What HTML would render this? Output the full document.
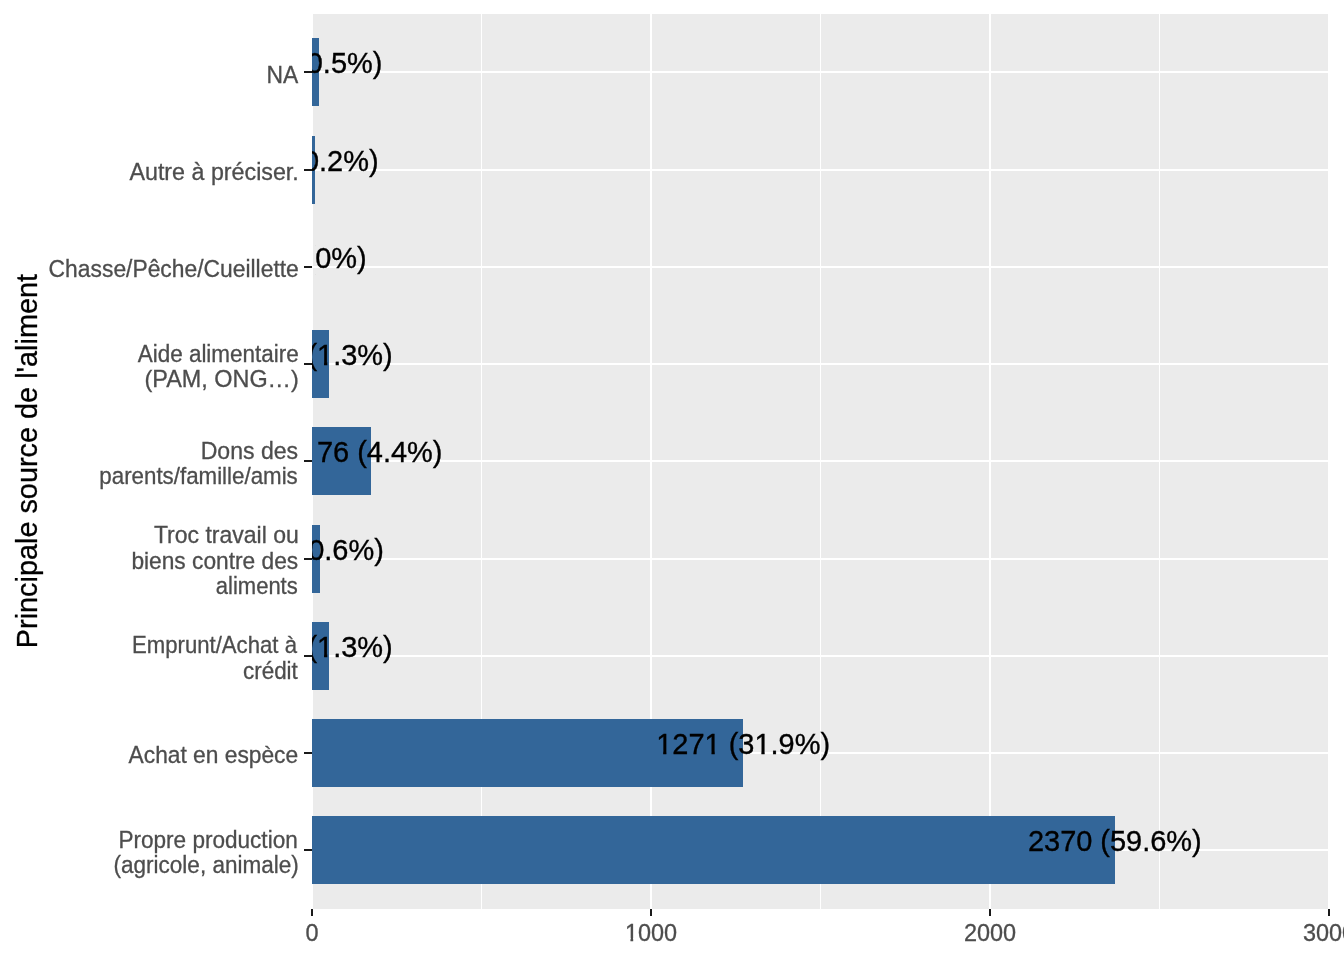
<!DOCTYPE html>
<html lang="fr"><head><meta charset="utf-8"><title>Principale source de l'aliment</title>
<style>html,body{margin:0;padding:0;background:#fff;}body{width:1344px;height:960px;overflow:hidden;}svg{display:block;}text{font-family:"Liberation Sans",sans-serif;}.ax{font-size:23.47px;fill:#4D4D4D;stroke:#4D4D4D;stroke-width:0.3px;}.lb{font-size:29.4px;fill:#000;stroke:#000;stroke-width:0.35px;}.ti{font-size:29.33px;fill:#000;text-anchor:middle;stroke:#000;stroke-width:0.3px;}.g rect{fill:#fff;}.t rect{fill:#1A1A1A;}.b rect{fill:#336699;}</style></head><body>
<svg width="1344" height="960" viewBox="0 0 1344 960">
<rect width="1344" height="960" fill="#fff"/>
<defs><clipPath id="pc"><rect x="312" y="14" width="1018" height="895"/></clipPath><clipPath id="pc2"><rect x="315.4" y="14" width="1014" height="895"/></clipPath><clipPath id="f3"><path clip-rule="evenodd" d="M0 0H1344V960H0ZM318.52 362.00h5.53v4.78h-5.53ZM327.26 362.00h5.45v4.78h-5.45Z"/></clipPath><clipPath id="f4"><path clip-rule="evenodd" d="M0 0H1344V960H0ZM302.27 459.00h5.53v4.78h-5.53ZM311.00 459.00h5.45v4.78h-5.45Z"/></clipPath><clipPath id="f6"><path clip-rule="evenodd" d="M0 0H1344V960H0ZM318.52 654.00h5.53v4.78h-5.53ZM327.26 654.00h5.45v4.78h-5.45Z"/></clipPath><clipPath id="f7"><path clip-rule="evenodd" d="M0 0H1344V960H0ZM657.67 751.00h5.53v4.78h-5.53ZM666.40 751.00h5.45v4.78h-5.45ZM705.98 751.00h5.53v4.78h-5.53ZM714.72 751.00h5.45v4.78h-5.45ZM755.88 751.00h5.53v4.78h-5.53ZM764.62 751.00h5.45v4.78h-5.45Z"/></clipPath><clipPath id="fx"><path clip-rule="evenodd" d="M0 0H1344V960H0ZM625.93 938.10h4.56v4.25h-4.56ZM633.17 938.10h4.53v4.25h-4.53Z"/></clipPath></defs>
<g shape-rendering="crispEdges">
<rect x="313" y="14" width="1015" height="895" fill="#EBEBEB"/>
<g class="g">
<rect x="481" y="14" width="1" height="895"/>
<rect x="820" y="14" width="1" height="895"/>
<rect x="1159" y="14" width="1" height="895"/>
<rect x="650" y="14" width="2" height="895"/>
<rect x="989" y="14" width="2" height="895"/>
<rect x="313" y="71" width="1015" height="2"/>
<rect x="313" y="169" width="1015" height="2"/>
<rect x="313" y="266" width="1015" height="2"/>
<rect x="313" y="363" width="1015" height="2"/>
<rect x="313" y="460" width="1015" height="2"/>
<rect x="313" y="558" width="1015" height="2"/>
<rect x="313" y="655" width="1015" height="2"/>
<rect x="313" y="752" width="1015" height="2"/>
<rect x="313" y="849" width="1015" height="2"/>
</g>
<g class="b">
<rect x="312" y="38" width="7" height="68"/>
<rect x="312" y="136" width="3" height="68"/>
<rect x="312" y="330" width="17" height="68"/>
<rect x="312" y="427" width="59" height="68"/>
<rect x="312" y="525" width="8" height="68"/>
<rect x="312" y="622" width="17" height="68"/>
<rect x="312" y="719" width="431" height="68"/>
<rect x="312" y="816" width="803" height="68"/>
</g>
<g class="t">
<rect x="304" y="71" width="8" height="2"/>
<rect x="304" y="169" width="8" height="2"/>
<rect x="304" y="266" width="8" height="2"/>
<rect x="304" y="363" width="8" height="2"/>
<rect x="304" y="460" width="8" height="2"/>
<rect x="304" y="558" width="8" height="2"/>
<rect x="304" y="655" width="8" height="2"/>
<rect x="304" y="752" width="8" height="2"/>
<rect x="304" y="849" width="8" height="2"/>
<rect x="311" y="909" width="2" height="7"/>
<rect x="650" y="909" width="2" height="7"/>
<rect x="989" y="909" width="2" height="7"/>
<rect x="1328" y="909" width="2" height="7"/>
</g>
</g>
<g clip-path="url(#pc)">
<g><text class="lb" text-anchor="middle" transform="translate(319.62,73.00) scale(0.9850,1.015)">21 (0.5%)</text></g>
<g><text class="lb" text-anchor="middle" transform="translate(323.85,171.00) scale(0.9850,1.015)">9 (0.2%)</text></g>
<g clip-path="url(#pc2)"><text class="lb" text-anchor="middle" transform="translate(324.04,268.00) scale(0.9850,1.015)">1 (0%)</text></g>
<g clip-path="url(#f3)"><text class="lb" text-anchor="middle" transform="translate(329.97,365.00) scale(0.9850,1.015)">53 (1.3%)</text></g>
<g clip-path="url(#f4)"><text class="lb" text-anchor="middle" transform="translate(371.66,462.00) scale(0.9850,1.015)">176 (4.4%)</text></g>
<g><text class="lb" text-anchor="middle" transform="translate(321.08,560.00) scale(0.9850,1.015)">25 (0.6%)</text></g>
<g clip-path="url(#f6)"><text class="lb" text-anchor="middle" transform="translate(329.97,657.00) scale(0.9850,1.015)">53 (1.3%)</text></g>
<g clip-path="url(#f7)"><text class="lb" text-anchor="middle" transform="translate(743.17,754.00) scale(0.9850,1.015)">1271 (31.9%)</text></g>
<g><text class="lb" text-anchor="middle" transform="translate(1114.83,851.00) scale(0.9850,1.015)">2370 (59.6%)</text></g>
</g>
<text class="ax" text-anchor="end" transform="translate(298.20,82.75) scale(0.9750,1)">NA</text>
<text class="ax" text-anchor="end" transform="translate(298.80,180.00) scale(0.9911,1)">Autre à préciser.</text>
<text class="ax" text-anchor="end" transform="translate(298.80,277.25) scale(0.9737,1)">Chasse/Pêche/Cueillette</text>
<text class="ax" text-anchor="end" transform="translate(298.80,362.00) scale(0.9581,1)">Aide alimentaire</text>
<text class="ax" text-anchor="end" transform="translate(298.80,387.00) scale(0.9975,1)">(PAM, ONG…)</text>
<text class="ax" text-anchor="end" transform="translate(298.16,459.25) scale(0.9833,1)">Dons des</text>
<text class="ax" text-anchor="end" transform="translate(297.76,484.25) scale(0.9515,1)">parents/famille/amis</text>
<text class="ax" text-anchor="end" transform="translate(298.80,543.00) scale(0.9807,1)">Troc travail ou</text>
<text class="ax" text-anchor="end" transform="translate(298.16,569.00) scale(0.9688,1)">biens contre des</text>
<text class="ax" text-anchor="end" transform="translate(297.76,594.00) scale(0.9390,1)">aliments</text>
<text class="ax" text-anchor="end" transform="translate(296.96,652.75) scale(0.9445,1)">Emprunt/Achat à</text>
<text class="ax" text-anchor="end" transform="translate(297.84,678.75) scale(0.9561,1)">crédit</text>
<text class="ax" text-anchor="end" transform="translate(298.16,762.80) scale(0.9707,1)">Achat en espèce</text>
<text class="ax" text-anchor="end" transform="translate(297.76,848.25) scale(0.9618,1)">Propre production</text>
<text class="ax" text-anchor="end" transform="translate(298.80,873.25) scale(0.9600,1)">(agricole, animale)</text>
<g><text class="ax" text-anchor="middle" transform="translate(312.00,940.60) scale(1.0000,1)">0</text></g>
<g clip-path="url(#fx)"><text class="ax" text-anchor="middle" transform="translate(651.00,940.60) scale(1.0000,1)">1000</text></g>
<g><text class="ax" text-anchor="middle" transform="translate(990.00,940.60) scale(1.0000,1)">2000</text></g>
<g><text class="ax" text-anchor="middle" transform="translate(1329.00,940.60) scale(1.0000,1)">3000</text></g>
<text class="ti" transform="translate(36.80,461.10) rotate(-90) scale(0.9840,1)">Principale source de l'aliment</text>
</svg></body></html>
